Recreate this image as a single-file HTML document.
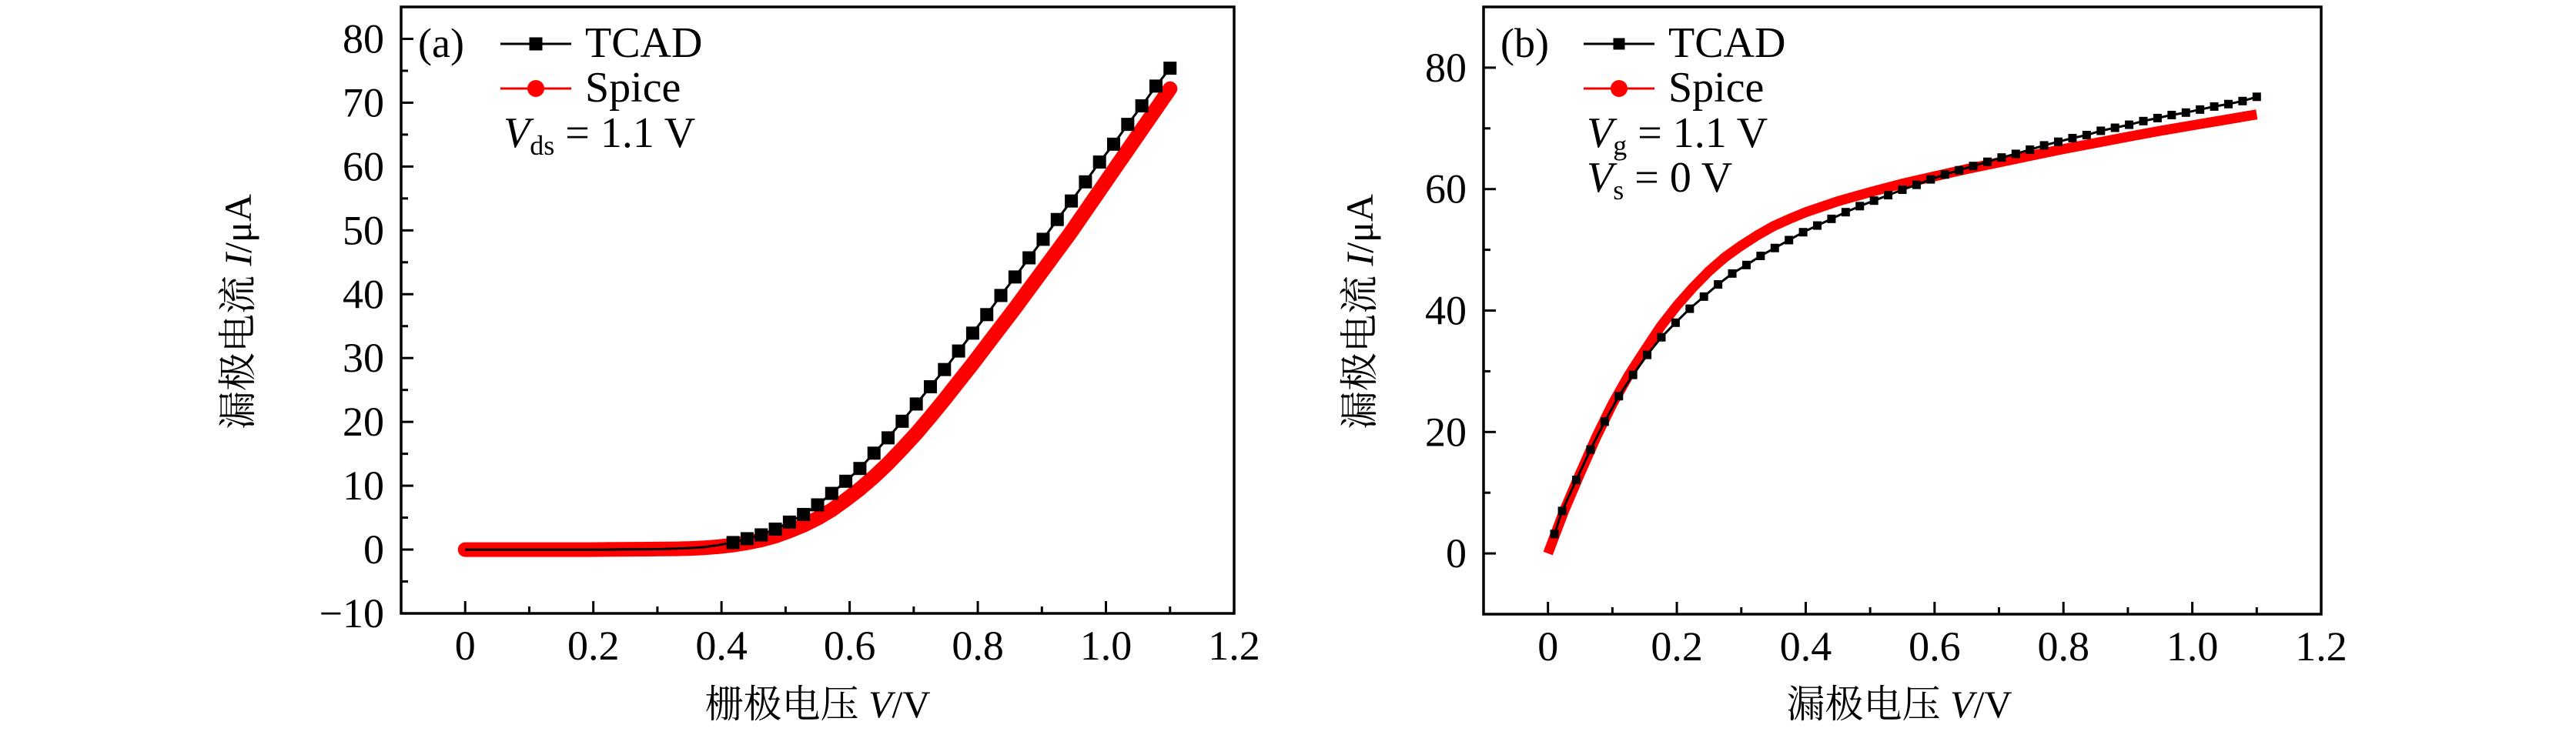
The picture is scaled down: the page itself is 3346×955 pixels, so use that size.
<!DOCTYPE html>
<html><head><meta charset="utf-8">
<style>
html,body{margin:0;padding:0;background:#fff;}
svg{display:block;}
svg text{font-family:"Liberation Serif","Noto Serif CJK SC",serif !important;fill:#000;}
</style></head>
<body>
<svg id="fig" width="3346" height="955" viewBox="0 0 3346 955" xmlns="http://www.w3.org/2000/svg" font-family="'Liberation Serif','Noto Serif CJK SC',serif"></svg>
<script>
// ---- Panel (a) data ----
const aTcadX = [0,0.022,0.044,0.066,0.088,0.11,0.132,0.154,0.176,0.198,0.22,0.242,0.264,0.286,0.308,0.33,0.352,0.374,0.396,0.418,0.44,0.462,0.484,0.506,0.528,0.55,0.572,0.594,0.616,0.638,0.66,0.682,0.704,0.726,0.748,0.77,0.792,0.814,0.836,0.858,0.88,0.902,0.924,0.946,0.968,0.99,1.012,1.034,1.056,1.078,1.1];
const aTcadY = [0,0,0,0,0,0,0,0,0,0,0,0.02,0.03,0.05,0.08,0.15,0.25,0.4,0.7,1.1,1.7,2.3,3.2,4.3,5.5,7.0,8.8,10.7,12.7,15.1,17.5,20.1,22.8,25.5,28.2,31.1,33.9,36.8,39.8,42.7,45.7,48.6,51.7,54.6,57.6,60.7,63.5,66.6,69.5,72.6,75.4];
const aSpiceY = [0,0,0,0,0,0,0,0,0,0,0.02,0.03,0.05,0.07,0.1,0.12,0.18,0.28,0.45,0.7,1.05,1.5,2.1,2.9,3.8,4.9,6.2,7.8,9.5,11.4,13.5,15.8,18.2,20.8,23.5,26.3,29.1,32.0,34.9,37.8,40.8,43.8,46.8,49.8,53.0,56.2,59.4,62.6,65.8,69.0,72.2];
const aXTicks = [0,0.2,0.4,0.6,0.8,1.0,1.2];
const aXTickLabels = ["0","0.2","0.4","0.6","0.8","1.0","1.2"];
const aYTicks = [-10,0,10,20,30,40,50,60,70,80];
const aYTickLabels = ["\u221210","0","10","20","30","40","50","60","70","80"];
// ---- Panel (b) data ----
const bTcadX = [0.01,0.022,0.044,0.066,0.088,0.11,0.132,0.154,0.176,0.198,0.22,0.242,0.264,0.286,0.308,0.33,0.352,0.374,0.396,0.418,0.44,0.462,0.484,0.506,0.528,0.55,0.572,0.594,0.616,0.638,0.66,0.682,0.704,0.726,0.748,0.77,0.792,0.814,0.836,0.858,0.88,0.902,0.924,0.946,0.968,0.99,1.012,1.034,1.056,1.078,1.1];
const bTcadY = [3.2,7.0,12.1,17.1,21.7,25.9,29.4,32.7,35.6,38.0,40.3,42.3,44.3,46.1,47.5,49.0,50.3,51.6,52.9,54.0,55.1,56.2,57.2,58.1,59.0,59.9,60.7,61.6,62.4,63.1,63.8,64.5,65.2,65.8,66.5,67.2,67.8,68.4,68.9,69.6,70.1,70.6,71.2,71.7,72.2,72.6,73.1,73.6,74.0,74.5,75.2];
const bSpiceX = [0,0.025,0.05,0.075,0.1,0.125,0.15,0.175,0.2,0.225,0.25,0.275,0.3,0.325,0.35,0.375,0.4,0.45,0.5,0.55,0.6,0.65,0.7,0.75,0.8,0.85,0.9,0.95,1.0,1.05,1.1];
const bSpiceY = [0,7.0,13.2,19.2,24.6,29.3,33.4,37.4,40.8,43.8,46.5,48.8,50.7,52.4,53.9,55.1,56.2,58.0,59.5,60.9,62.1,63.3,64.4,65.5,66.6,67.6,68.6,69.6,70.5,71.4,72.3];
const bXTicks = [0,0.2,0.4,0.6,0.8,1.0,1.2];
const bXTickLabels = ["0","0.2","0.4","0.6","0.8","1.0","1.2"];
const bYTicks = [0,20,40,60,80];
const bYTickLabels = ["0","20","40","60","80"];

const NS = "http://www.w3.org/2000/svg";
const FONT = "'Liberation Serif','Noto Serif CJK SC',serif";
const svg = document.getElementById('fig');
function mk(tag, attrs, parent){
  const e = document.createElementNS(NS, tag);
  for (const k in attrs) e.setAttribute(k, attrs[k]);
  if (tag === 'text') e.setAttribute('font-family', FONT);
  (parent||svg).appendChild(e);
  return e;
}

function panel(cfg){
  const g = mk('g', {});
  
  
  const sx = v => cfg.x0 + (v - cfg.xmin) / (cfg.xmax - cfg.xmin) * (cfg.x1 - cfg.x0);
  const sy = v => cfg.y1 - (v - cfg.ymin) / (cfg.ymax - cfg.ymin) * (cfg.y1 - cfg.y0);

  let pts = cfg.spiceX.map((x,i)=>sx(x).toFixed(1)+','+sy(cfg.spiceY[i]).toFixed(1)).join(' ');
  const sp = mk('polyline', {points:pts, fill:'none', stroke:'#f00', 'stroke-width':cfg.redW, 'stroke-linejoin':'round', 'stroke-linecap':cfg.cap}, g);
  
  

  pts = cfg.tcadX.map((x,i)=>sx(x).toFixed(1)+','+sy(cfg.tcadY[i]).toFixed(1)).join(' ');
  const tl = mk('polyline', {points:pts, fill:'none', stroke:'#000', 'stroke-width':3}, g);
  
  
  cfg.tcadX.forEach((x,i)=>{
    if (cfg.tcadY[i] < cfg.markMin) return;
    const s = cfg.sq;
    const r = mk('rect', {x:sx(x)-s/2, y:sy(cfg.tcadY[i])-s/2, width:s, height:s, fill:'#000'}, g);
    
    
  });

  const fr = mk('rect', {x:cfg.x0, y:cfg.y0, width:cfg.x1-cfg.x0, height:cfg.y1-cfg.y0, fill:'none', stroke:'#000', 'stroke-width':3.5}, g);
  
  

  cfg.xTicks.forEach((t,i)=>{
    const x = sx(t);
    const tk = mk('line', {x1:x, x2:x, y1:cfg.y1, y2:cfg.y1-16, stroke:'#000','stroke-width':3}, g);
    
    
    const lb = mk('text', {x:x, y:cfg.y1+60, 'font-size':54, 'text-anchor':'middle'}, g);
    lb.textContent = cfg.xTickLabels[i];
    
    
    if (i < cfg.xTicks.length-1) {
      const mx = sx(t + (cfg.xTicks[1]-cfg.xTicks[0])/2);
      const mt = mk('line', {x1:mx, x2:mx, y1:cfg.y1, y2:cfg.y1-9, stroke:'#000','stroke-width':3}, g);
      
      
    }
  });
  cfg.yTicks.forEach((t,i)=>{
    const y = sy(t);
    const tk = mk('line', {x1:cfg.x0, x2:cfg.x0+16, y1:y, y2:y, stroke:'#000','stroke-width':3}, g);
    
    
    const lb = mk('text', {x:cfg.x0-22, y:y+18, 'font-size':54, 'text-anchor':'end'}, g);
    lb.textContent = cfg.yTickLabels[i];
    
    
    const my = sy(t + (cfg.yTicks[1]-cfg.yTicks[0])/2);
    if (my > cfg.y0 + 2) {
      const mt = mk('line', {x1:cfg.x0, x2:cfg.x0+9, y1:my, y2:my, stroke:'#000','stroke-width':3}, g);
      
      
    }
  });

  const xt = mk('text', {x:cfg.xTitleX, y:932, 'font-size':50, 'text-anchor':'middle'}, g);
  xt.innerHTML = cfg.xTitle + ' <tspan font-style="italic">V</tspan>/V';
  
  
  const yt = mk('text', {x:0, y:0, 'font-size':50, 'text-anchor':'middle', transform:'translate('+(cfg.yTitleX+16)+',405) rotate(-90)'}, g);
  yt.innerHTML = '漏极电流 <tspan font-style="italic">I</tspan>/μA';
  
  

  const pl = mk('text', {x:cfg.x0+22, y:74, 'font-size':54}, g);
  pl.textContent = cfg.label;
  
  

  const lx = cfg.legX;
  const l1 = mk('line', {x1:lx, x2:lx+92, y1:57, y2:57, stroke:'#000','stroke-width':3}, g);
  
  
  const l1m = mk('rect', {x:lx+46-cfg.legSq/2, y:57-cfg.legSq/2, width:cfg.legSq, height:cfg.legSq, fill:'#000'}, g);
  
  
  const t1 = mk('text', {x:lx+110, y:74, 'font-size':56}, g);
  t1.textContent = 'TCAD';
  
  
  const l2 = mk('line', {x1:lx, x2:lx+92, y1:115, y2:115, stroke:'#e00','stroke-width':3}, g);
  
  
  const l2m = mk('circle', {cx:lx+46, cy:115, r:11, fill:'#f00'}, g);
  
  
  const t2 = mk('text', {x:lx+110, y:132, 'font-size':56}, g);
  t2.textContent = 'Spice';
  
  

  cfg.notes.forEach((n,i)=>{
    const tx = mk('text', {x:lx+4, y:191+i*58, 'font-size':56}, g);
    tx.innerHTML = '<tspan font-style="italic">V</tspan><tspan font-size="36" dy="10">' + n[0] + '</tspan><tspan dy="-10"> = ' + n[1] + '</tspan>';
    
    
  });
}

panel({name:'panel-a', x0:521, x1:1603, y0:9, y1:797, xmin:-0.1, xmax:1.2, ymin:-10, ymax:85,
  tcadX:aTcadX, tcadY:aTcadY, spiceX:aTcadX, spiceY:aSpiceY, redW:19, cap:'round', sq:17, markMin:0.8,
  xTicks:aXTicks, xTickLabels:aXTickLabels, yTicks:aYTicks, yTickLabels:aYTickLabels,
  xTitle:'栅极电压', xTitleX:1062, yTitleX:310, label:'(a)', legX:650, legSq:17,
  notes:[['ds','1.1 V']]});

panel({name:'panel-b', x0:1927, x1:3015, y0:9, y1:798, xmin:-0.1, xmax:1.2, ymin:-10, ymax:90,
  tcadX:bTcadX, tcadY:bTcadY, spiceX:bSpiceX, spiceY:bSpiceY, redW:13, cap:'butt', sq:11, markMin:-100,
  xTicks:bXTicks, xTickLabels:bXTickLabels, yTicks:bYTicks, yTickLabels:bYTickLabels,
  xTitle:'漏极电压', xTitleX:2467, yTitleX:1767, label:'(b)', legX:2057, legSq:15,
  notes:[['g','1.1 V'],['s','0 V']]});
</script>
</body></html>
